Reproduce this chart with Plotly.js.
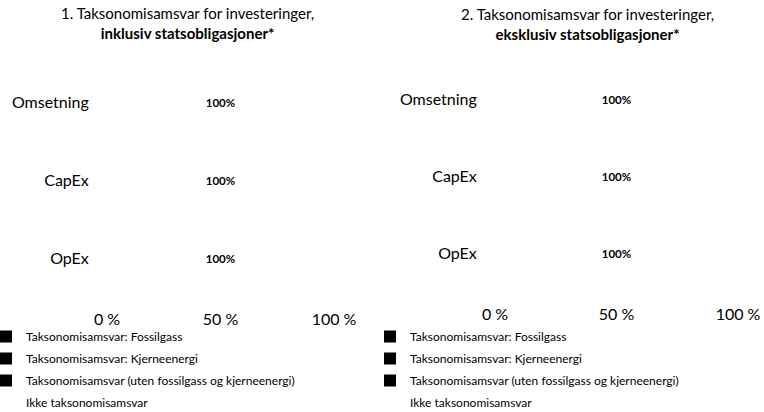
<!DOCTYPE html>
<html>
<head>
<meta charset="utf-8">
<script src="https://cdn.plot.ly/plotly-3.0.1.min.js"></script>
<style>html,body{margin:0;padding:0;background:#fff;}#chart{width:764px;height:412px;}</style>
</head>
<body>
<div id="chart"></div>
<script>
const categories = ["Omsetning", "CapEx", "OpEx"];
const seriesNames = [
  "Taksonomisamsvar: Fossilgass",
  "Taksonomisamsvar: Kjerneenergi",
  "Taksonomisamsvar (uten fossilgass og kjerneenergi)",
  "Ikke taksonomisamsvar"
];
const seriesColors = ["#000000", "#000000", "#000000", "#ffffff"];
// Chart 1: inklusiv statsobligasjoner
const inkl_fossilgass = [0, 0, 0];
const inkl_kjerneenergi = [0, 0, 0];
const inkl_uten = [0, 0, 0];
const inkl_ikke = [100, 100, 100];
// Chart 2: eksklusiv statsobligasjoner
const eks_fossilgass = [0, 0, 0];
const eks_kjerneenergi = [0, 0, 0];
const eks_uten = [0, 0, 0];
const eks_ikke = [100, 100, 100];
const tickVals = [0, 50, 100];
const tickText = ["0 %", "50 %", "100 %"];
const title1 = "1. Taksonomisamsvar for investeringer,<br><b>inklusiv statsobligasjoner*</b>";
const title2 = "2. Taksonomisamsvar for investeringer,<br><b>eksklusiv statsobligasjoner*</b>";

const FONT = "Lato, 'Liberation Sans', sans-serif";

function makeTraces(valsList, xa, ya, legendId, prefix) {
  return valsList.map((vals, i) => ({
    type: "bar",
    orientation: "h",
    name: seriesNames[i],
    legendgroup: prefix + i,
    y: categories,
    x: vals,
    xaxis: xa,
    yaxis: ya,
    legend: legendId,
    marker: {color: seriesColors[i], line: {width: 0}},
    text: vals.map(v => v + "%"),
    texttemplate: i === 3 ? "%{text}" : "",
    textposition: i === 3 ? "inside" : "none",
    insidetextanchor: "middle",
    textangle: 0,
    constraintext: "none",
    textfont: {family: FONT, size: 11.5, color: "#000", weight: "bold"},
    hoverinfo: "x+name"
  }));
}

const traces = [
  ...makeTraces([inkl_fossilgass, inkl_kjerneenergi, inkl_uten, inkl_ikke], "x", "y", "legend", "a"),
  ...makeTraces([eks_fossilgass, eks_kjerneenergi, eks_uten, eks_ikke], "x2", "y2", "legend2", "b")
];

const xCommon = {
  range: [0, 100], tickvals: tickVals, ticktext: tickText,
  showgrid: false, zeroline: false, showline: false,
  ticks: "outside", ticklen: 8, tickcolor: "rgba(0,0,0,0)",
  tickfont: {family: FONT, size: 16, color: "#000"}, fixedrange: true
};
const yCommon = {
  type: "category", autorange: "reversed", showgrid: false, zeroline: false,
  showline: false, ticks: "outside", ticklen: 14, tickcolor: "rgba(0,0,0,0)",
  tickfont: {family: FONT, size: 16, color: "#000"}, fixedrange: true
};
const legendCommon = {
  orientation: "v", xanchor: "left", yanchor: "top", traceorder: "grouped",
  tracegroupgap: 3,
  font: {family: FONT, size: 12, color: "#000"}, bgcolor: "rgba(0,0,0,0)",
  borderwidth: 0, itemclick: false, itemdoubleclick: false
};

const layout = {
  width: 764, height: 412,
  margin: {l: 0, r: 0, t: 0, b: 0, autoexpand: false},
  paper_bgcolor: "#fff", plot_bgcolor: "#fff",
  barmode: "stack", bargap: 0.5,
  showlegend: true,
  font: {family: FONT, color: "#000"},
  xaxis: Object.assign({}, xCommon, {domain: [107/764, 334/764], anchor: "y"}),
  yaxis: Object.assign({}, yCommon, {domain: [1 - 297/412, 1 - 64/412], anchor: "x"}),
  xaxis2: Object.assign({}, xCommon, {domain: [495/764, 738/764], anchor: "y2"}),
  yaxis2: Object.assign({}, yCommon, {domain: [1 - 292/412, 1 - 61/412], anchor: "x2"}),
  legend: Object.assign({}, legendCommon, {x: -14/764, y: 1 - 322/412}),
  legend2: Object.assign({}, legendCommon, {x: 370/764, y: 1 - 322/412}),
  annotations: [
    {text: title1, xref: "paper", yref: "paper", x: 187/764, y: 1 - 2/412, xanchor: "center", yanchor: "top",
     showarrow: false, align: "center", font: {family: FONT, size: 15, color: "#000"}},
    {text: title2, xref: "paper", yref: "paper", x: 587/764, y: 1 - 3/412, xanchor: "center", yanchor: "top",
     showarrow: false, align: "center", font: {family: FONT, size: 15, color: "#000"}}
  ]
};

Plotly.newPlot("chart", traces, layout, {displayModeBar: false, staticPlot: true});
</script>
</body>
</html>
